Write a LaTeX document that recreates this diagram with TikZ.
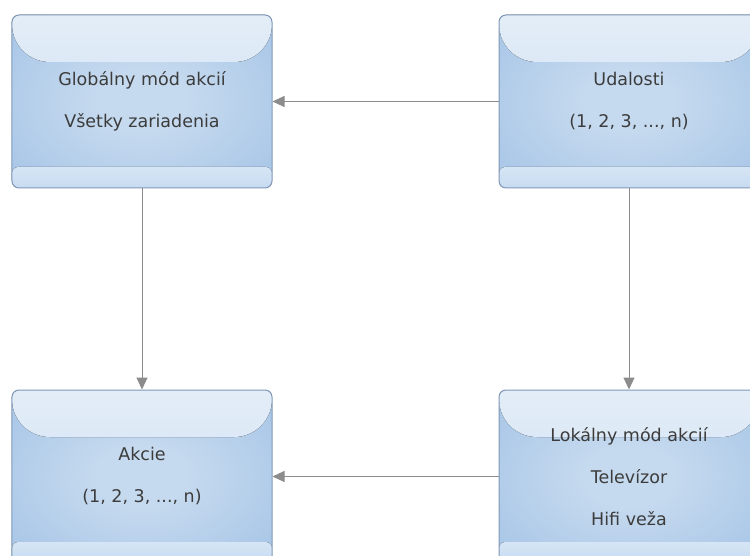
\documentclass[tikz,border=0pt]{standalone}
\usepackage{fontspec}
\setmainfont{DejaVu Sans}
\usetikzlibrary{arrows.meta}
\definecolor{boxline}{RGB}{128,152,182}
\definecolor{boxin}{RGB}{198,218,239}
\definecolor{boxout}{RGB}{162,194,229}
\definecolor{glosstop}{RGB}{228,238,248}
\definecolor{glossbot}{RGB}{204,222,241}
\definecolor{bandtop}{RGB}{214,229,245}
\definecolor{bandbot}{RGB}{192,214,238}
\definecolor{txt}{RGB}{60,60,60}
\definecolor{conn}{RGB}{140,140,140}
\pgfdeclareradialshading{boxglow}{\pgfpoint{0bp}{0bp}}{%
  color(0bp)=(boxin); color(8bp)=(boxin); color(38bp)=(boxout); color(80bp)=(boxout)}

\begin{document}
\begin{tikzpicture}[x=1bp, y=-1bp,
    box/.style={draw=boxline, line width=1bp, rounded corners=7bp,
      minimum width=260bp, minimum height=173bp,
      shading=boxglow,
      align=center, text=txt, font=\fontsize{17.5bp}{42bp}\selectfont,
      path picture={
        % glossy top part
        \fill[sharp corners, top color=glosstop, bottom color=glossbot, rounded corners=38bp]
          ([yshift=10bp]path picture bounding box.north west)
          -- ([yshift=-47bp]path picture bounding box.north west)
          -- ([yshift=-47bp]path picture bounding box.north east)
          -- ([yshift=10bp]path picture bounding box.north east);
        % light band at the bottom
        \fill[sharp corners, top color=bandtop, bottom color=bandbot, rounded corners=6bp]
          ([yshift=-10bp]path picture bounding box.south west)
          -- ([yshift=21bp]path picture bounding box.south west)
          -- ([yshift=21bp]path picture bounding box.south east)
          -- ([yshift=-10bp]path picture bounding box.south east);
      }},
    link/.style={draw=conn, line width=1bp, -{Triangle[length=12bp, width=11bp]}}]
  \useasboundingbox (0,0) rectangle (750,556);

  \node[box] (glob)  at (142,101.5) {Globálny mód akcií\\Všetky zariadenia};
  \node[box] (udal)  at (629,101.5) {Udalosti\\(1, 2, 3, ..., n)};
  \node[box] (akcie) at (142,476.5) {Akcie\\(1, 2, 3, ..., n)};
  \node[box] (lokal) at (629,476.5) {Lokálny mód akcií\\Televízor\\Hifi veža};

  \draw[link] (udal) -- (glob);
  \draw[link] (glob) -- (akcie);
  \draw[link] (udal) -- (lokal);
  \draw[link] (lokal) -- (akcie);
\end{tikzpicture}
\end{document}
